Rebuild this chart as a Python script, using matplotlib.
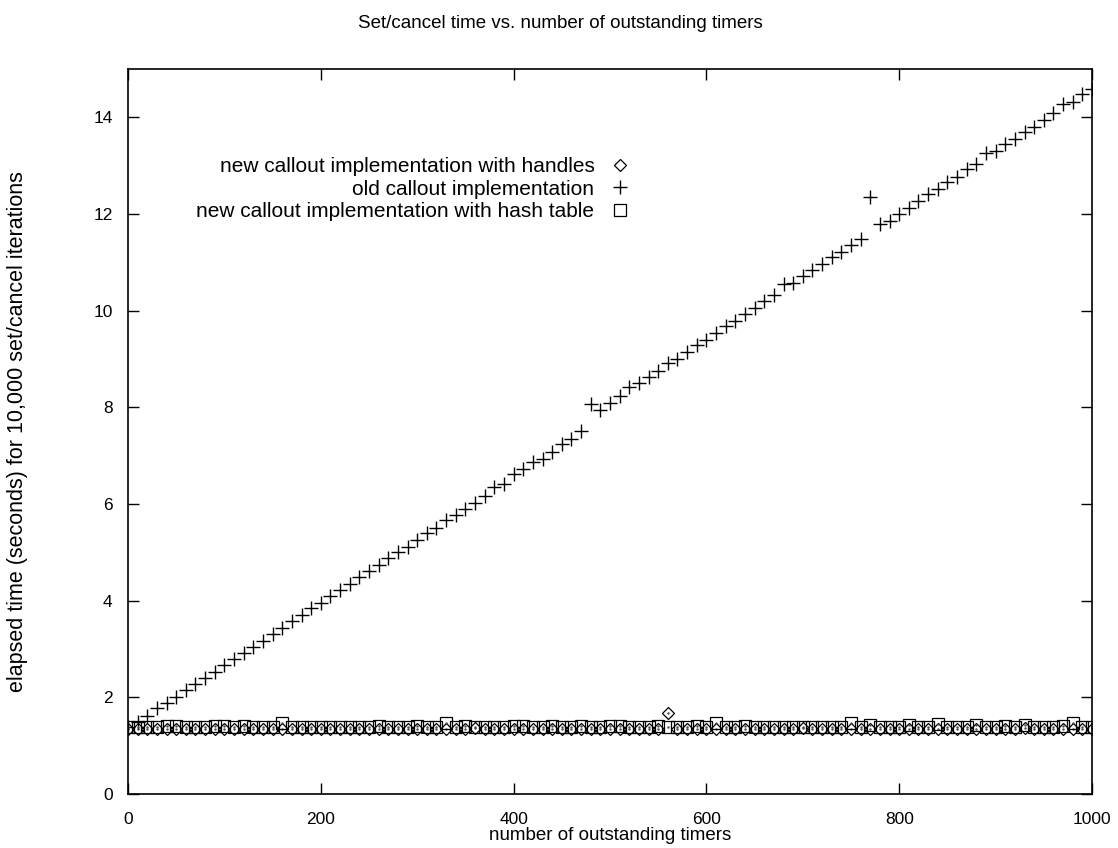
import numpy as np
import matplotlib.pyplot as plt

plt.rcParams["font.family"] = ["Liberation Sans", "DejaVu Sans"]

# number of outstanding timers (x axis)
timers = list(range(0, 1001, 10))

# old callout implementation
old_callout = [
    1.38, 1.50, 1.62, 1.77, 1.88, 2.01, 2.15, 2.28, 2.40, 2.53,
    2.67, 2.79, 2.92, 3.05, 3.17, 3.31, 3.44, 3.57, 3.70, 3.84,
    3.96, 4.10, 4.22, 4.35, 4.48, 4.61, 4.74, 4.89, 5.00, 5.12,
    5.26, 5.39, 5.50, 5.66, 5.77, 5.90, 6.03, 6.17, 6.35, 6.42,
    6.63, 6.73, 6.87, 6.94, 7.08, 7.25, 7.34, 7.51, 8.07, 7.94,
    8.10, 8.23, 8.43, 8.51, 8.63, 8.76, 8.91, 9.01, 9.14, 9.28,
    9.39, 9.53, 9.68, 9.79, 9.93, 10.06, 10.20, 10.32, 10.55, 10.57,
    10.72, 10.84, 10.97, 11.11, 11.21, 11.35, 11.48, 12.36, 11.79, 11.86,
    12.00, 12.13, 12.26, 12.41, 12.52, 12.66, 12.77, 12.93, 13.04, 13.26,
    13.30, 13.44, 13.55, 13.70, 13.81, 13.95, 14.08, 14.27, 14.31, 14.48,
    14.59,
]

# new callout implementation with handles
new_handles = [
    1.34, 1.34, 1.34, 1.34, 1.34, 1.34, 1.34, 1.34, 1.34, 1.34,
    1.34, 1.34, 1.34, 1.34, 1.34, 1.34, 1.34, 1.34, 1.34, 1.34,
    1.34, 1.34, 1.34, 1.34, 1.34, 1.34, 1.34, 1.34, 1.34, 1.34,
    1.34, 1.34, 1.34, 1.34, 1.34, 1.34, 1.37, 1.34, 1.34, 1.34,
    1.34, 1.34, 1.34, 1.34, 1.34, 1.34, 1.34, 1.34, 1.34, 1.34,
    1.34, 1.34, 1.34, 1.34, 1.34, 1.34, 1.67, 1.34, 1.34, 1.34,
    1.34, 1.34, 1.34, 1.34, 1.34, 1.34, 1.34, 1.34, 1.34, 1.34,
    1.36, 1.34, 1.34, 1.34, 1.34, 1.34, 1.34, 1.34, 1.34, 1.34,
    1.34, 1.34, 1.34, 1.34, 1.34, 1.34, 1.34, 1.34, 1.34, 1.34,
    1.34, 1.34, 1.34, 1.37, 1.34, 1.34, 1.34, 1.34, 1.34, 1.34,
    1.34,
]

# new callout implementation with hash table
new_hash = [
    1.39, 1.38, 1.38, 1.38, 1.40, 1.40, 1.38, 1.38, 1.38, 1.40,
    1.40, 1.38, 1.41, 1.38, 1.38, 1.38, 1.47, 1.38, 1.38, 1.38,
    1.38, 1.38, 1.38, 1.38, 1.38, 1.38, 1.40, 1.38, 1.38, 1.38,
    1.41, 1.38, 1.38, 1.46, 1.38, 1.40, 1.38, 1.38, 1.38, 1.38,
    1.40, 1.40, 1.38, 1.38, 1.40, 1.38, 1.38, 1.40, 1.38, 1.38,
    1.40, 1.40, 1.38, 1.38, 1.38, 1.41, 1.38, 1.38, 1.38, 1.40,
    1.38, 1.47, 1.38, 1.38, 1.40, 1.38, 1.38, 1.38, 1.38, 1.38,
    1.38, 1.38, 1.38, 1.38, 1.38, 1.46, 1.38, 1.43, 1.38, 1.38,
    1.38, 1.42, 1.38, 1.38, 1.45, 1.38, 1.38, 1.38, 1.42, 1.38,
    1.38, 1.40, 1.38, 1.43, 1.38, 1.38, 1.38, 1.41, 1.47, 1.38,
    1.38,
]

fig = plt.figure(figsize=(11.18, 8.48), dpi=100)
ax = fig.add_axes([128 / 1118, 54 / 848, 964 / 1118, 725 / 848])

# gnuplot-style open points, each with a dot in the middle
h1, = ax.plot(timers, new_handles, linestyle="none", marker="D", markersize=6.5,
              markerfacecolor="none", markeredgecolor="black", markeredgewidth=0.9,
              label="new callout implementation with handles")
ax.plot(timers, new_handles, linestyle="none", marker=".", markersize=1.5, color="0.3")
h2, = ax.plot(timers, old_callout, linestyle="none", marker="+", markersize=10,
              color="black", markeredgewidth=1.0,
              label="old callout implementation")
h3, = ax.plot(timers, new_hash, linestyle="none", marker="s", markersize=9,
              markerfacecolor="none", markeredgecolor="black", markeredgewidth=0.9,
              label="new callout implementation with hash table")
ax.plot(timers, new_hash, linestyle="none", marker=".", markersize=1.5, color="0.3")

ax.set_xlim(0, 1000)
ax.set_ylim(0, 15)
ax.set_xticks(range(0, 1001, 200))
ax.set_yticks(range(0, 15, 2))
ax.tick_params(direction="in", length=8, width=1, top=True, right=True,
               labelsize=12.5)
ax.tick_params(axis="x", pad=13)
ax.tick_params(axis="y", pad=11)
for sp in ax.spines.values():
    sp.set_linewidth(1.2)

fig.text(610 / 1118, 1 - 836 / 848, "number of outstanding timers",
         fontsize=13.5, ha="center", va="center")
fig.text(18 / 1118, 1 - 432 / 848,
         "elapsed time (seconds) for 10,000 set/cancel iterations",
         fontsize=15.5, rotation=90, ha="center", va="center")
fig.text(560 / 1118, 1 - 23 / 848,
         "Set/cancel time vs. number of outstanding timers",
         fontsize=13.5, ha="center", va="center")

ax.legend(handles=[h1, h2, h3], loc="upper right",
          bbox_to_anchor=(632 / 1118, 1 - 157 / 848),
          bbox_transform=fig.transFigure, frameon=False, markerfirst=False,
          fontsize=15, handlelength=1.2, handletextpad=0.6, labelspacing=0.17,
          borderpad=0, borderaxespad=0)

fig.savefig("out.png", dpi=100)
